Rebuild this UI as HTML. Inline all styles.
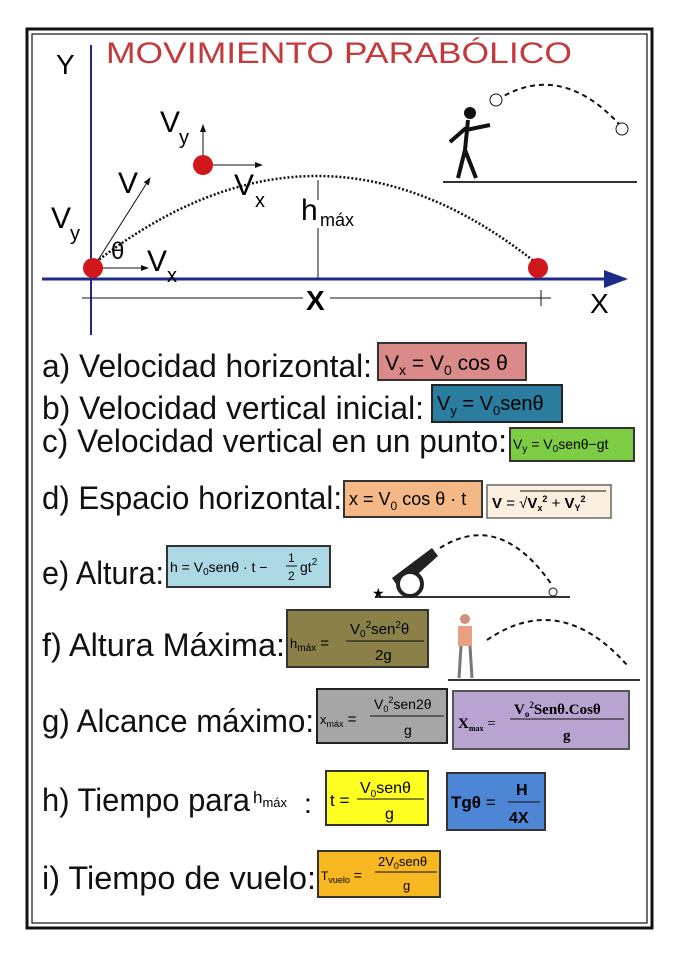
<!DOCTYPE html>
<html><head><meta charset="utf-8"><style>
body{margin:0;background:#fff;width:678px;height:960px;overflow:hidden}
svg{display:block}
text{font-family:"Liberation Sans",sans-serif}
.lab{font-size:32px;fill:#111}
</style></head><body>
<svg width="678" height="960" viewBox="0 0 678 960">
<defs><marker id="a" markerWidth="8" markerHeight="8" refX="7" refY="4" orient="auto"><path d="M0,1 L8,4 L0,7 z" fill="#111"/></marker>
<marker id="b" markerWidth="8" markerHeight="8" refX="7" refY="4" orient="auto"><path d="M0,1 L8,4 L0,7 z" fill="#1c2a8a"/></marker></defs>
<rect x="27" y="29" width="625" height="899" fill="none" stroke="#111" stroke-width="3"/>
<rect x="32" y="34" width="615" height="889" fill="none" stroke="#111" stroke-width="1.2"/>
<text x="106" y="63" font-size="30" fill="#c43a3c" textLength="466" lengthAdjust="spacingAndGlyphs">MOVIMIENTO PARABÓLICO</text>
<line x1="91" y1="45" x2="91" y2="335" stroke="#1c2a8a" stroke-width="2"/>
<line x1="42" y1="279" x2="625" y2="279" stroke="#1c2a8a" stroke-width="3" marker-end="url(#b)"/>
<text x="56" y="74" font-size="28">Y</text>
<text x="590" y="313" font-size="28">X</text>
<path d="M96,262 Q318,90 535,262" fill="none" stroke="#111" stroke-width="2.5" stroke-dasharray="2,2"/>
<line x1="318" y1="180" x2="318" y2="200" stroke="#111"/><line x1="318" y1="228" x2="318" y2="279" stroke="#111"/>
<text x="301" y="220" font-size="30">h</text><text x="320" y="226" font-size="18">máx</text>
<line x1="82" y1="298" x2="303" y2="298" stroke="#111"/><line x1="330" y1="298" x2="551" y2="298" stroke="#111"/>
<line x1="541" y1="290" x2="541" y2="306" stroke="#111"/>
<text x="306" y="310" font-size="28" font-weight="bold">X</text>
<line x1="203" y1="165" x2="203" y2="125" stroke="#111" marker-end="url(#a)"/>
<line x1="203" y1="165" x2="262" y2="165" stroke="#111" marker-end="url(#a)"/>
<text x="160" y="132" font-size="30">V</text><text x="179" y="144" font-size="20">y</text>
<text x="234" y="195" font-size="30">V</text><text x="255" y="207" font-size="20">x</text>
<line x1="93" y1="268" x2="150" y2="178" stroke="#111" marker-end="url(#a)"/>
<line x1="93" y1="268" x2="148" y2="268" stroke="#111" marker-end="url(#a)"/>
<text x="118" y="193" font-size="30">V</text>
<text x="51" y="228" font-size="30">V</text><text x="70" y="240" font-size="20">y</text>
<text x="111" y="259" font-size="24">θ</text>
<text x="147" y="271" font-size="30">V</text><text x="167" y="282" font-size="20">x</text>
<circle cx="93" cy="268" r="10" fill="#d0181c"/><circle cx="203" cy="165" r="10" fill="#d0181c"/><circle cx="538" cy="268" r="10" fill="#d0181c"/>
<!-- kicker -->
<line x1="443" y1="182" x2="637" y2="182" stroke="#333" stroke-width="2"/>
<path d="M497,100 Q560,60 620,125" fill="none" stroke="#111" stroke-width="2" stroke-dasharray="5,4"/>
<circle cx="470" cy="113" r="6" fill="#111"/><path d="M468,120 L465,150 L458,178 M465,150 L476,178 M466,130 L490,125 M466,128 L450,142" stroke="#111" stroke-width="4" fill="none"/>
<circle cx="496" cy="100" r="6" fill="#fff" stroke="#111"/><circle cx="622" cy="129" r="6" fill="#fff" stroke="#111"/>
<!-- labels -->
<text class="lab" x="42" y="377" textLength="330" lengthAdjust="spacingAndGlyphs">a) Velocidad horizontal:</text>
<rect x="378" y="343" width="148" height="37" fill="#d98a89" stroke="#333" stroke-width="2"/>
<text x="385" y="370" font-size="21">V<tspan font-size="14" dy="5">x</tspan><tspan dy="-5"> = V</tspan><tspan font-size="14" dy="5">0</tspan><tspan dy="-5"> cos θ</tspan></text>
<text class="lab" x="42" y="419" textLength="382" lengthAdjust="spacingAndGlyphs">b) Velocidad vertical inicial:</text>
<rect x="432" y="385" width="130" height="37" fill="#2a7d9e" stroke="#222" stroke-width="2"/>
<text x="437" y="410" font-size="20">V<tspan font-size="13" dy="5">y</tspan><tspan dy="-5"> = V</tspan><tspan font-size="13" dy="5">0</tspan><tspan dy="-5">senθ</tspan></text>
<text class="lab" x="42" y="452" textLength="465" lengthAdjust="spacingAndGlyphs">c) Velocidad vertical en un punto:</text>
<rect x="510" y="428" width="124" height="33" fill="#7ccc44" stroke="#333" stroke-width="2"/>
<text x="513" y="449" font-size="14">V<tspan font-size="10" dy="3">y</tspan><tspan dy="-3"> = V</tspan><tspan font-size="10" dy="3">0</tspan><tspan dy="-3">senθ−gt</tspan></text>
<text class="lab" x="42" y="509" textLength="300" lengthAdjust="spacingAndGlyphs">d) Espacio horizontal:</text>
<rect x="344" y="481" width="138" height="36" fill="#f4b887" stroke="#333" stroke-width="2"/>
<text x="349" y="505" font-size="18">x = V<tspan font-size="12" dy="5">0</tspan><tspan dy="-5"> cos θ · t</tspan></text>
<rect x="487" y="485" width="124" height="33" fill="#fbf0df" stroke="#666" stroke-width="1.5"/>
<text x="492" y="508" font-size="15" font-weight="bold">V <tspan font-weight="normal">= √</tspan>V<tspan font-size="9" dy="3">x</tspan><tspan font-size="9" dy="-9">2</tspan><tspan dy="6" font-weight="normal"> + </tspan>V<tspan font-size="9" dy="3">Y</tspan><tspan font-size="9" dy="-9">2</tspan></text>
<line x1="520" y1="491" x2="606" y2="491" stroke="#111"/>
<text class="lab" x="42" y="584" textLength="122" lengthAdjust="spacingAndGlyphs">e) Altura:</text>
<rect x="167" y="546" width="163" height="41" fill="#acd8e4" stroke="#333" stroke-width="2"/>
<text x="170" y="572" font-size="14">h = V<tspan font-size="10" dy="3">0</tspan><tspan dy="-3">senθ · t − </tspan></text>
<text x="288" y="562" font-size="12">1</text><line x1="286" y1="566" x2="297" y2="566" stroke="#111"/><text x="288" y="580" font-size="12">2</text>
<text x="300" y="572" font-size="14">gt<tspan font-size="10" dy="-7">2</tspan></text>
<!-- cannon -->
<line x1="375" y1="597" x2="570" y2="597" stroke="#333" stroke-width="2"/>
<path d="M440,548 Q500,510 552,585" fill="none" stroke="#111" stroke-width="2" stroke-dasharray="5,4"/>
<path d="M392,578 L432,548 L438,556 L400,590 z" fill="#222"/>
<circle cx="410" cy="584" r="12" fill="#fff" stroke="#222" stroke-width="4"/>
<text x="372" y="598" font-size="14">★</text><circle cx="553" cy="592" r="4" fill="#fff" stroke="#111"/>
<text class="lab" x="42" y="656" textLength="243" lengthAdjust="spacingAndGlyphs">f)  Altura Máxima:</text>
<rect x="287" y="610" width="141" height="57" fill="#8a8048" stroke="#333" stroke-width="2"/>
<text x="290" y="648" font-size="13">h<tspan font-size="10" dy="3">máx</tspan><tspan dy="-3" font-size="15"> =</tspan></text>
<text x="350" y="634" font-size="15">V<tspan font-size="10" dy="3">0</tspan><tspan font-size="10" dy="-9">2</tspan><tspan dy="6">sen</tspan><tspan font-size="10" dy="-6">2</tspan><tspan dy="6">θ</tspan></text>
<line x1="346" y1="641" x2="424" y2="641" stroke="#111"/><text x="375" y="660" font-size="15">2g</text>
<!-- golfer -->
<line x1="448" y1="680" x2="640" y2="680" stroke="#333" stroke-width="2"/>
<path d="M487,640 Q560,590 627,665" fill="none" stroke="#111" stroke-width="2" stroke-dasharray="5,4"/>
<rect x="458" y="626" width="14" height="20" fill="#e8a080"/><circle cx="465" cy="619" r="5" fill="#d09080"/>
<path d="M461,646 L459,678 M470,646 L472,678" stroke="#777" stroke-width="3"/>
<text class="lab" x="42" y="732" textLength="272" lengthAdjust="spacingAndGlyphs">g) Alcance máximo:</text>
<rect x="317" y="689" width="130" height="54" fill="#a6a6a6" stroke="#222" stroke-width="2"/>
<text x="320" y="724" font-size="13">x<tspan font-size="9" dy="3">máx</tspan><tspan dy="-3" font-size="15"> =</tspan></text>
<text x="374" y="709" font-size="14">V<tspan font-size="9" dy="3">0</tspan><tspan font-size="9" dy="-9">2</tspan><tspan dy="6">sen2θ</tspan></text>
<line x1="370" y1="716" x2="444" y2="716" stroke="#111"/><text x="404" y="735" font-size="14">g</text>
<rect x="453" y="691" width="176" height="58" fill="#b9a3d1" stroke="#555" stroke-width="2"/>
<text x="458" y="728" font-size="15" font-weight="bold" style="font-family:'Liberation Serif'">X<tspan font-size="8" dy="3">max</tspan><tspan dy="-3" font-weight="normal"> =</tspan></text>
<text x="514" y="714" font-size="15" font-weight="bold" style="font-family:'Liberation Serif'">V<tspan font-size="9" dy="3">o</tspan><tspan font-size="9" dy="-9">2</tspan><tspan dy="6">Senθ.Cosθ</tspan></text>
<line x1="510" y1="719" x2="624" y2="719" stroke="#111"/><text x="563" y="740" font-size="15" font-weight="bold" style="font-family:'Liberation Serif'">g</text>
<text class="lab" x="42" y="811" textLength="208" lengthAdjust="spacingAndGlyphs">h) Tiempo para</text>
<text x="253" y="803" font-size="17">h<tspan font-size="13" dy="4">máx</tspan></text>
<text x="304" y="813" font-size="28">:</text>
<rect x="326" y="771" width="102" height="54" fill="#ffff22" stroke="#333" stroke-width="2"/>
<text x="330" y="806" font-size="17">t =</text>
<text x="360" y="793" font-size="16">V<tspan font-size="10" dy="4">0</tspan><tspan dy="-4">senθ</tspan></text>
<line x1="357" y1="799" x2="424" y2="799" stroke="#111"/><text x="385" y="819" font-size="16">g</text>
<rect x="447" y="773" width="98" height="57" fill="#4d86d4" stroke="#333" stroke-width="2"/>
<text x="451" y="808" font-size="17" font-weight="bold">Tgθ <tspan font-weight="normal">=</tspan></text>
<text x="516" y="795" font-size="16" font-weight="bold">H</text>
<line x1="508" y1="802" x2="540" y2="802" stroke="#111"/><text x="509" y="823" font-size="16" font-weight="bold">4X</text>
<text class="lab" x="42" y="889" textLength="274" lengthAdjust="spacingAndGlyphs">i)  Tiempo de vuelo:</text>
<rect x="318" y="851" width="122" height="46" fill="#f7b821" stroke="#333" stroke-width="2"/>
<text x="321" y="880" font-size="12">T<tspan font-size="9" dy="3">vuelo</tspan><tspan dy="-3" font-size="14"> =</tspan></text>
<text x="378" y="866" font-size="13">2V<tspan font-size="9" dy="3">0</tspan><tspan dy="-3">senθ</tspan></text>
<line x1="375" y1="872" x2="437" y2="872" stroke="#111"/><text x="403" y="890" font-size="13">g</text>
</svg>
</body></html>
